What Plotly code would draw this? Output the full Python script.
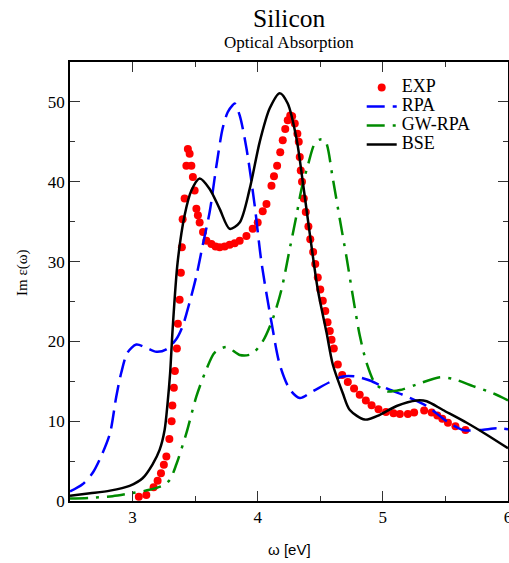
import plotly.graph_objects as go

# ---- data ----
exp_x = [3.050, 3.110, 3.168, 3.200, 3.227, 3.250, 3.270, 3.294, 3.312, 3.318, 3.330, 3.338,
         3.354, 3.362, 3.376, 3.386, 3.394, 3.400, 3.416, 3.430, 3.442, 3.456, 3.470, 3.482,
         3.496, 3.510, 3.522, 3.536, 3.563, 3.590, 3.630, 3.663, 3.696, 3.736, 3.776, 3.816,
         3.856, 3.910, 3.960, 4.000, 4.040, 4.070, 4.110, 4.130, 4.155, 4.180, 4.200, 4.220,
         4.240, 4.260, 4.275, 4.296, 4.317, 4.328, 4.336, 4.344, 4.354, 4.368, 4.384, 4.405,
         4.420, 4.443, 4.460, 4.480, 4.500, 4.520, 4.540, 4.558, 4.576, 4.590, 4.608, 4.640,
         4.675, 4.720, 4.770, 4.815, 4.864, 4.910, 4.965, 5.025, 5.085, 5.136, 5.200, 5.250,
         5.330, 5.390, 5.435, 5.475, 5.520, 5.580, 5.660]
exp_y = [0.54, 0.75, 1.72, 2.55, 3.48, 4.53, 5.57, 7.76, 9.98, 11.95, 14.2, 16.3,
         19.1, 22.2, 25.2, 28.6, 31.8, 35.3, 37.9, 42.0, 44.1, 43.5, 42.0, 40.6,
         38.9, 36.6, 35.8, 34.9, 33.7, 32.6, 32.2, 31.9, 31.8, 31.9, 32.1, 32.3,
         32.6, 33.2, 34.1, 34.9, 36.3, 37.2, 39.5, 40.7, 42.0, 43.7, 45.2, 46.6,
         47.7, 48.3, 48.2, 47.3, 46.0, 45.0, 43.1, 41.4, 40.0, 37.9, 36.2, 34.4,
         32.8, 31.2, 29.7, 28.0, 26.5, 25.1, 23.8, 22.4, 21.3, 20.2, 19.1, 17.1,
         15.8, 14.9, 14.1, 13.3, 12.6, 12.0, 11.5, 11.15, 11.0, 10.9, 10.9, 11.1,
         11.35, 11.1, 10.7, 10.3, 9.8, 9.35, 8.9]

rpa_x = [2.5, 2.60, 2.68, 2.76, 2.82, 2.87, 2.91, 2.96, 3.03, 3.11, 3.19, 3.27, 3.35, 3.40,
         3.456, 3.51, 3.56, 3.616, 3.67, 3.72, 3.76, 3.80, 3.816, 3.856, 3.91, 3.976, 4.03,
         4.11, 4.176, 4.256, 4.336, 4.44, 4.576, 4.68, 4.78, 4.896, 5.03, 5.16, 5.35, 5.51,
         5.64, 5.78, 5.91, 6.0]
rpa_y = [1.2, 2.1, 3.5, 6.0, 8.5, 13.1, 16.1, 18.6, 19.6, 19.2, 18.7, 19.0, 20.3, 21.9,
         24.9, 28.2, 32.0, 36.2, 42.0, 46.7, 48.7, 49.6, 49.8, 48.3, 44.2, 37.0, 29.9,
         22.4, 17.1, 14.0, 12.9, 13.75, 14.9, 15.6, 15.6, 15.1, 14.1, 13.3, 11.9, 10.0,
         8.9, 8.9, 9.1, 9.0]

gw_x = [2.5, 2.66, 2.84, 3.0, 3.136, 3.25, 3.30, 3.35, 3.43, 3.51, 3.59, 3.656, 3.75, 3.856,
        3.95, 4.04, 4.12, 4.19, 4.256, 4.31, 4.35, 4.40, 4.456, 4.50, 4.54, 4.60, 4.656,
        4.71, 4.76, 4.816, 4.87, 4.936, 5.03, 5.136, 5.27, 5.456, 5.56, 5.72, 5.88, 6.0]
gw_y = [0.3, 0.4, 0.6, 1.0, 1.4, 2.0, 2.7, 4.6, 8.5, 13.1, 16.5, 18.6, 19.3, 18.3,
        18.4, 20.0, 22.8, 26.5, 31.6, 35.8, 39.1, 42.0, 44.8, 45.3, 45.1, 40.4, 35.3,
        30.5, 25.7, 20.7, 17.3, 14.8, 13.75, 13.9, 14.6, 15.5, 15.3, 14.4, 13.5, 12.6]

bse_x = [2.5, 2.66, 2.82, 2.976, 3.08, 3.16, 3.216, 3.256, 3.28, 3.30, 3.32, 3.36, 3.416,
         3.47, 3.536, 3.616, 3.696, 3.776, 3.856, 3.936, 4.016, 4.096, 4.176, 4.24, 4.31,
         4.36, 4.416, 4.48, 4.55, 4.60, 4.68, 4.736, 4.856, 4.976, 5.11, 5.27, 5.35, 5.48,
         5.67, 5.83, 6.0]
bse_y = [0.67, 0.97, 1.3, 1.9, 2.85, 4.6, 6.4, 8.9, 12.3, 16.0, 21.5, 29.9, 35.8,
         38.9, 40.4, 39.1, 36.6, 34.1, 34.9, 39.1, 45.0, 49.2, 51.1, 49.8, 45.4,
         40.0, 33.5, 26.5, 21.1, 17.1, 13.5, 11.4, 10.2, 10.8, 11.9, 12.6, 12.5, 11.4,
         9.8, 8.3, 6.6]

series_names = ["EXP", "RPA", "GW-RPA", "BSE"]
x_ticks = [3, 4, 5, 6]
y_ticks = [0, 10, 20, 30, 40, 50]

SERIF = "Liberation Serif"
SANS = "Liberation Sans"
GREEN = "rgb(0,139,0)"


def leg(name):
    return "<span style='font-size:18px'>%s</span>" % name


fig = go.Figure()
fig.add_trace(go.Scatter(x=exp_x, y=exp_y, mode="markers", name=leg(series_names[0]),
                         marker=dict(color="red", size=8, line=dict(width=0))))
fig.add_trace(go.Scatter(x=rpa_x, y=rpa_y, mode="lines", name=leg(series_names[1]),
                         line=dict(color="blue", width=2.5, dash="18px,8px",
                                   shape="spline", smoothing=0.8)))
fig.add_trace(go.Scatter(x=gw_x, y=gw_y, mode="lines", name=leg(series_names[2]),
                         line=dict(color=GREEN, width=2.5, dash="18px,8px,3px,8px",
                                   shape="spline", smoothing=0.8)))
fig.add_trace(go.Scatter(x=bse_x, y=bse_y, mode="lines", name=leg(series_names[3]),
                         line=dict(color="black", width=2.5, shape="spline", smoothing=0.8)))

axis_common = dict(showgrid=False, zeroline=False, showline=True, linecolor="black",
                   linewidth=1.5, mirror="allticks", ticks="inside", ticklen=10,
                   tickwidth=1, tickcolor="#333", ticklabeloverflow="allow",
                   automargin=False,
                   tickfont=dict(family=SERIF, size=17, color="black"))

fig.update_xaxes(range=[2.5, 6], tickvals=x_ticks, ticktext=[str(v) for v in x_ticks],
                 minor=dict(dtick=0.5, ticks="inside", ticklen=5, tickcolor="#333", tickwidth=1),
                 **axis_common)
fig.update_yaxes(range=[0, 55], tickvals=y_ticks, ticktext=[str(v) for v in y_ticks],
                 minor=dict(dtick=5, ticks="inside", ticklen=5, tickcolor="#333", tickwidth=1),
                 **axis_common)

plot_l, plot_r, plot_t, plot_b = 70, 508, 62, 501


def px_x(p):
    return (p - plot_l) / (plot_r - plot_l)


def px_y(p):
    return (plot_b - p) / (plot_b - plot_t)


fig.update_layout(
    width=509, height=563,
    margin=dict(l=70, r=1, t=62, b=62, autoexpand=False),
    plot_bgcolor="white", paper_bgcolor="white",
    showlegend=True,
    legend=dict(x=0.666, y=0.975, xanchor="left", yanchor="top",
                font=dict(family=SERIF, size=12, color="black"),
                bgcolor="rgba(0,0,0,0)", tracegroupgap=0, itemwidth=30),
    annotations=[
        dict(text="Silicon", x=0.5, y=px_y(18), xref="paper", yref="paper", showarrow=False,
             xanchor="center", yanchor="middle",
             font=dict(family=SERIF, size=25.5, color="black")),
        dict(text="Optical Absorption", x=0.5, y=px_y(43), xref="paper", yref="paper",
             showarrow=False, xanchor="center", yanchor="middle",
             font=dict(family=SERIF, size=17, color="black")),
        dict(text="ω [eV]", x=0.5, y=px_y(549), xref="paper", yref="paper", showarrow=False,
             xanchor="center", yanchor="middle",
             font=dict(family=SANS, size=15, color="black")),
        dict(text="Im ε(ω)", x=px_x(22), y=px_y(273), xref="paper", yref="paper",
             showarrow=False, xanchor="center", yanchor="middle",
             textangle=-90, font=dict(family=SERIF, size=15, color="black")),
    ],
)

fig.write_html("out.html")
